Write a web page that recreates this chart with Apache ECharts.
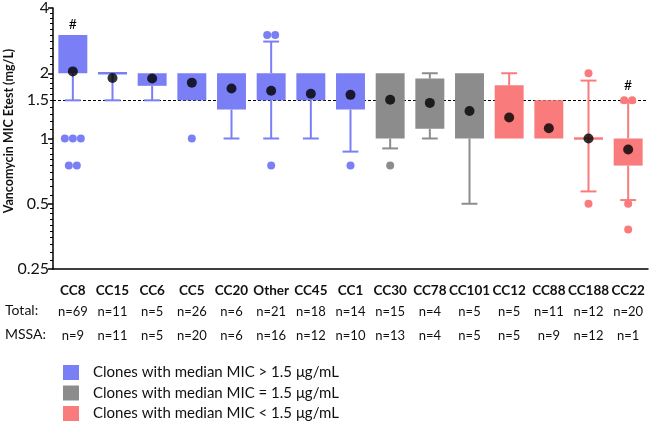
<!DOCTYPE html>
<html><head><meta charset="utf-8">
<script src="https://cdn.jsdelivr.net/npm/echarts@6/dist/echarts.min.js"></script>
<style>html,body{margin:0;padding:0;background:#fff}#c{width:650px;height:425px}</style>
</head><body><div id="c"></div>
<script>
// ---- data ----
const categories = ['CC8','CC15','CC6','CC5','CC20','Other','CC45','CC1','CC30','CC78','CC101','CC12','CC88','CC188','CC22'];
const groupIndex = [0,0,0,0,0,0,0,0,1,1,1,2,2,2,2];
const groupNames = ['Clones with median MIC > 1.5 \u03bcg/mL','Clones with median MIC = 1.5 \u03bcg/mL','Clones with median MIC < 1.5 \u03bcg/mL'];
const whiskerLow  = [1.5,1.5,1.5,1.5,1,1,1,0.87,0.9,1,0.5,1,1,0.57,0.52];
const q1          = [2,2,1.75,1.5,1.36,1.5,1.5,1.36,1,1.11,1,1,1,1,0.75];
const q3          = [3,2,2,2,2,2,2,2,2,1.89,2,1.76,1.5,1,1];
const whiskerHigh = [3,2,2,2,2,2.8,2,2,2,2,2,2,1.5,1.85,1.47];
const means       = [2.04,1.90,1.89,1.81,1.70,1.66,1.61,1.59,1.51,1.46,1.34,1.25,1.115,1.0,0.89];
const outliers    = [[1,1,1,0.75,0.75],[],[],[1],[],[3,3,0.75],[],[0.75],[0.75],[],[],[],[],[2,0.5],[1.5,1.5,0.5,0.38]];
const flagged     = [true,false,false,false,false,false,false,false,false,false,false,false,false,false,true];
const totalN      = [69,11,5,26,6,21,18,14,15,4,5,5,11,12,20];
const mssaN       = [9,11,5,20,6,16,12,10,13,4,5,5,9,12,1];
const rowLabels   = ['Total:','MSSA:'];
const yTickLabels = [0.25,0.5,1,2,4];
const threshold   = 1.5;
const yTitle      = 'Vancomycin MIC Etest (mg/L)';

// ---- styles ----
const colors = ['#7b7ff6','#8c8c8c','#f97b7b'];
const FONT = 'Lato';

function renderBox(params, api) {
  const i = api.value(0);
  const low = api.value(1), lo = api.value(2), hi = api.value(3), high = api.value(4);
  const band = api.size([1, 1])[0];
  const bw = band * 0.73, cw = band * 0.4;
  const pLow = api.coord([i, low]), pQ1 = api.coord([i, lo]), pQ3 = api.coord([i, hi]), pHigh = api.coord([i, high]);
  const x = pQ1[0];
  const color = api.visual('color');
  const ls = {stroke: color, lineWidth: 2, fill: null};
  const ch = [];
  if (high > hi) {
    ch.push({type:'line', shape:{x1:x,y1:pQ3[1],x2:x,y2:pHigh[1]}, style:ls});
    ch.push({type:'line', shape:{x1:x-cw/2,y1:pHigh[1],x2:x+cw/2,y2:pHigh[1]}, style:ls});
  }
  if (low < lo) {
    ch.push({type:'line', shape:{x1:x,y1:pQ1[1],x2:x,y2:pLow[1]}, style:ls});
    ch.push({type:'line', shape:{x1:x-cw/2,y1:pLow[1],x2:x+cw/2,y2:pLow[1]}, style:ls});
  }
  if (hi > lo) {
    ch.push({type:'rect', shape:{x:x-bw/2,y:pQ3[1],width:bw,height:pQ1[1]-pQ3[1]}, style:{fill:color}});
  } else {
    ch.push({type:'line', shape:{x1:x-bw/2,y1:pQ1[1],x2:x+bw/2,y2:pQ1[1]}, style:{stroke:color,lineWidth:2.5}});
  }
  let top = Math.min(pHigh[1], pQ3[1]);
  const outs = outliers[i];
  const counts = {};
  outs.forEach(v => { counts[v] = (counts[v] || 0) + 1; });
  Object.keys(counts).forEach(k => {
    const v = parseFloat(k), n = counts[k];
    const p = api.coord([i, v]);
    for (let j = 0; j < n; j++) {
      const dx = (j - (n - 1) / 2) * 8;
      ch.push({type:'circle', shape:{cx:p[0]+dx, cy:p[1], r:4}, style:{fill:color}});
    }
    top = Math.min(top, p[1] - 4);
  });
  if (flagged[i]) {
    ch.push({type:'text', style:{text:'#', x:x, y:top-11, align:'center', verticalAlign:'middle', font:'14px ' + FONT, fill:'#000'}});
  }
  return {type:'group', children: ch};
}

const boxSeries = groupNames.map((name, g) => ({
  name: name,
  type: 'custom',
  z: 3,
  itemStyle: {color: colors[g]},
  renderItem: renderBox,
  encode: {x: 0, y: [1,2,3,4]},
  data: categories.map((c, i) => i).filter(i => groupIndex[i] === g)
        .map(i => [i, whiskerLow[i], q1[i], q3[i], whiskerHigh[i]])
}));

const chart = echarts.init(document.getElementById('c'), null, {renderer: 'canvas'});
chart.setOption({
  animation: false,
  textStyle: {fontFamily: FONT},
  grid: {left: 53, right: 2, top: 5, bottom: 156},
  legend: {
    data: groupNames,
    orient: 'vertical',
    left: 63, top: 365, padding: 0, height: 60,
    itemWidth: 16, itemHeight: 15, itemGap: 5.5,
    icon: 'rect',
    textStyle: {fontSize: 15, color: '#111', fontFamily: FONT, padding: [0,0,0,9]}
  },
  graphic: rowLabels.map((t, k) => ({
    type: 'text', left: 5, top: 303 + k * 24,
    style: {text: t, font: '14px ' + FONT, fill: '#111'}
  })).concat([{
    type: 'text', x: 9, y: 131, rotation: Math.PI / 2,
    style: {text: yTitle, font: 'bold 12.5px ' + FONT, fill: '#111', align: 'center', verticalAlign: 'middle'}
  }]),
  xAxis: {
    type: 'category',
    data: categories,
    boundaryGap: true,
    axisLine: {lineStyle: {color: '#000', width: 1.5}},
    axisTick: {alignWithLabel: true, length: 5, lineStyle: {color: '#000', width: 1.5}},
    axisLabel: {
      interval: 0, margin: 12, color: '#111',
      formatter: (v, idx) => '{c|' + v + '}\n{t|n=' + totalN[idx] + '}\n{m|n=' + mssaN[idx] + '}',
      rich: {
        c: {fontWeight: 'bold', fontSize: 13.5, lineHeight: 20, fontFamily: FONT, color: '#111'},
        t: {fontSize: 13, lineHeight: 22, fontFamily: FONT, color: '#111'},
        m: {fontSize: 13, lineHeight: 26, fontFamily: FONT, color: '#111'}
      }
    }
  },
  yAxis: {
    type: 'log', logBase: 2, min: yTickLabels[0], max: yTickLabels[yTickLabels.length - 1], interval: 1,
    axisLine: {show: true, lineStyle: {color: '#000', width: 1.5}},
    axisTick: {show: true, length: 5, lineStyle: {color: '#000', width: 1.5}},
    minorTick: {show: true, splitNumber: 10, length: 3, lineStyle: {color: '#000', width: 1}},
    splitLine: {show: false},
    axisLabel: {fontSize: 16, color: '#111', margin: 4, formatter: v => String(v)}
  },
  series: [
    {
      type: 'line', data: [], z: 1, silent: true,
      markLine: {
        silent: true, symbol: 'none', z: 1,
        lineStyle: {type: [3, 2], color: '#000', width: 1.2},
        label: {position: 'start', formatter: String(threshold), fontSize: 16, color: '#111', distance: 4, fontFamily: FONT},
        emphasis: {disabled: true},
        data: [{yAxis: threshold}]
      }
    },
    ...boxSeries,
    {
      type: 'scatter', name: 'Mean', z: 5, symbolSize: 10,
      itemStyle: {color: '#000'},
      data: means.map((m, i) => [i, m])
    }
  ]
});
</script>
</body></html>
